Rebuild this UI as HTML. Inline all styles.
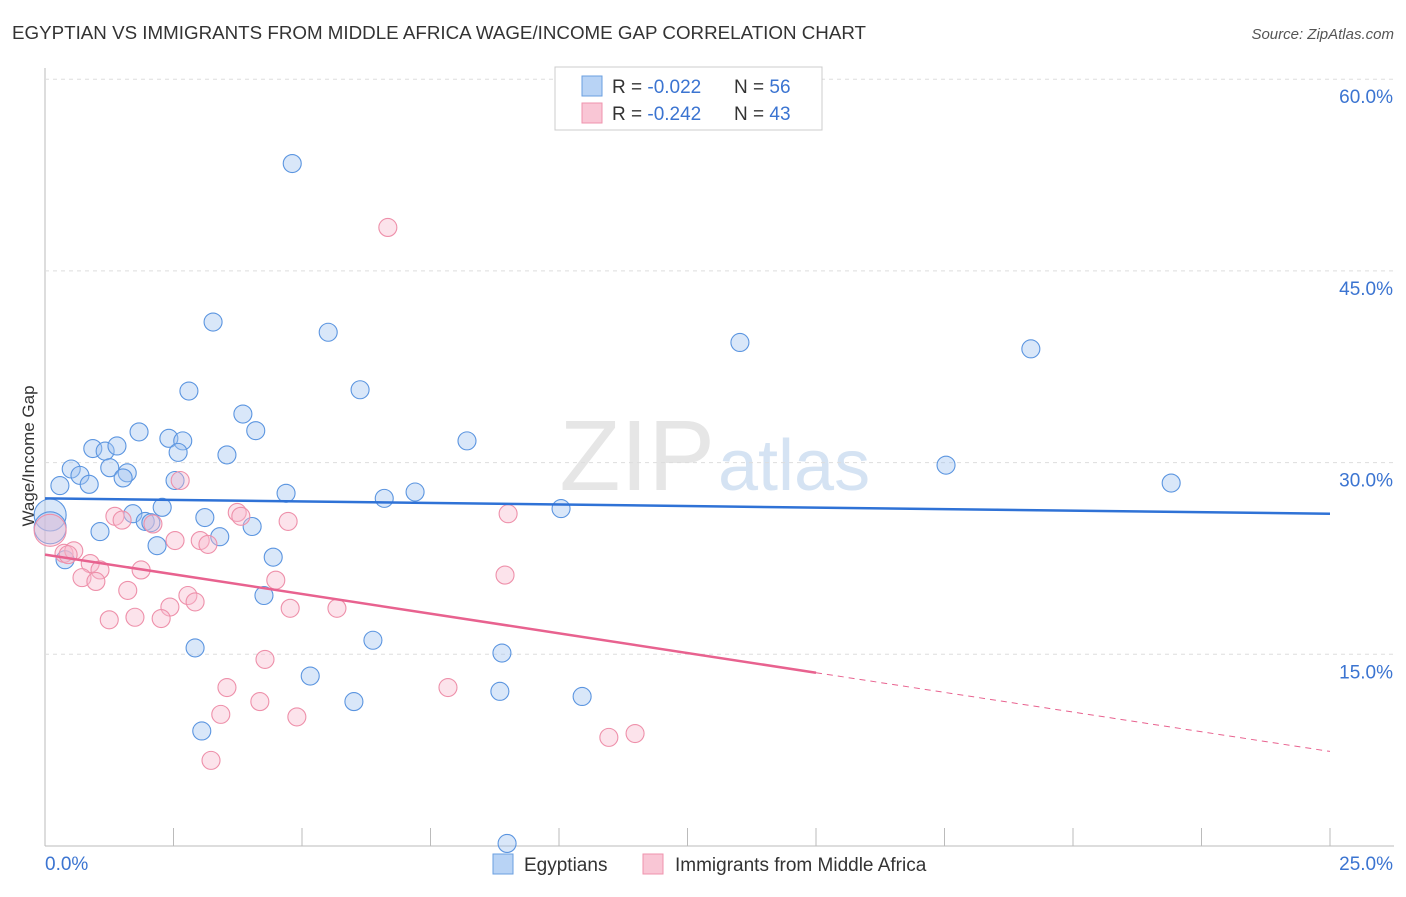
<!DOCTYPE html>
<html><head><meta charset="utf-8"><style>
body{margin:0;background:#fff;font-family:"Liberation Sans",sans-serif}
svg text{font-family:"Liberation Sans",sans-serif}
</style></head><body>
<svg id="c" width="1406" height="892">
<text x="12" y="39" font-size="18" fill="#333" textLength="854" lengthAdjust="spacingAndGlyphs">EGYPTIAN VS IMMIGRANTS FROM MIDDLE AFRICA WAGE/INCOME GAP CORRELATION CHART</text>
<text x="1394" y="39" font-size="15" fill="#555" font-style="italic" text-anchor="end">Source: ZipAtlas.com</text>
<text x="715" y="490" font-size="100" fill="#e6e6e6" text-anchor="end" font-family="Liberation Serif">ZIP</text>
<text x="718" y="490" font-size="72" fill="#d5e3f3">atlas</text>
<text transform="translate(34,456) rotate(-90)" font-size="17" fill="#333" text-anchor="middle">Wage/Income Gap</text>
<g id="grid"></g><g id="pts"></g><g id="lines"></g>
<g>
<rect x="555" y="67" width="267" height="63" fill="#fff" stroke="#ccc"/>
<rect x="582" y="76" width="20" height="20" fill="#b8d3f5" stroke="#6a9fe0"/>
<rect x="582" y="103" width="20" height="20" fill="#f9c6d5" stroke="#ef93ad"/>
<text x="612" y="93" font-size="19" fill="#333">R = <tspan fill="#3b74d1">-0.022</tspan></text>
<text x="734" y="93" font-size="19" fill="#333">N = <tspan fill="#3b74d1">56</tspan></text>
<text x="612" y="120" font-size="19" fill="#333">R = <tspan fill="#3b74d1">-0.242</tspan></text>
<text x="734" y="120" font-size="19" fill="#333">N = <tspan fill="#3b74d1">43</tspan></text>
</g>
<g>
<rect x="493" y="854" width="20" height="20" fill="#b8d3f5" stroke="#6a9fe0"/>
<text x="524" y="871" font-size="19" fill="#333">Egyptians</text>
<rect x="643" y="854" width="20" height="20" fill="#f9c6d5" stroke="#ef93ad"/>
<text x="675" y="871" font-size="19" fill="#333">Immigrants from Middle Africa</text>
</g>
</svg>
<script>
const yTicks=[15,30,45,60];
const xTickLabels=["0.0%","25.0%"];
const blueX=[4.81,3.27,5.51,13.52,19.18,2.80,6.13,3.85,1.83,4.10,2.41,2.68,8.21,0.93,1.17,1.40,2.59,3.54,0.51,0.68,1.26,1.60,1.52,0.29,0.86,2.53,17.53,21.91,4.69,6.60,7.20,10.04,2.28,1.71,3.11,1.95,2.06,4.03,1.07,3.40,2.18,0.10,0.10,0.39,4.44,4.26,6.38,2.92,8.89,5.16,8.85,10.45,6.01,3.05,8.99];
const blueY=[53.4,41.0,40.2,39.4,38.9,35.6,35.7,33.8,32.4,32.5,31.9,31.7,31.7,31.1,30.9,31.3,30.8,30.6,29.5,29.0,29.6,29.2,28.8,28.2,28.3,28.6,29.8,28.4,27.6,27.2,27.7,26.4,26.5,26.0,25.7,25.4,25.3,25.0,24.6,24.2,23.5,25.9,24.9,22.4,22.6,19.6,16.1,15.5,15.1,13.3,12.1,11.7,11.3,9.0,0.2];
const blueBig=[41,42];
const pinkX=[6.67,2.63,1.36,1.50,2.10,3.74,3.81,4.73,9.01,2.53,3.02,3.17,0.10,0.37,0.56,0.88,1.07,1.87,4.49,8.95,0.72,0.99,1.61,2.78,2.92,2.43,4.77,5.68,1.25,1.75,2.26,4.28,3.54,7.84,4.18,3.42,4.90,10.97,11.48,3.23,0.45];
const pinkY=[48.4,28.6,25.8,25.5,25.2,26.1,25.8,25.4,26.0,23.9,23.9,23.6,24.7,22.9,23.1,22.1,21.6,21.6,20.8,21.2,21.0,20.7,20.0,19.6,19.1,18.7,18.6,18.6,17.7,17.9,17.8,14.6,12.4,12.4,11.3,10.3,10.1,8.5,8.8,6.7,22.8];
const pinkBig=[12];
const blueTrend=[27.2,26.0];
const pinkTrend=[22.8,7.4];
const pinkSolidEnd=15;
const NS="http://www.w3.org/2000/svg";
const X=v=>45+v/25*1285, Y=v=>846-v*12.78;
function mk(t,a,p){const e=document.createElementNS(NS,t);for(const k in a)e.setAttribute(k,a[k]);p.appendChild(e);return e;}
const g=document.getElementById('grid');
mk('line',{x1:45,y1:68,x2:45,y2:846,stroke:'#bbb'},g);
mk('line',{x1:45,y1:846,x2:1394,y2:846,stroke:'#bbb'},g);
for(let i=1;i<=10;i++){mk('line',{x1:X(i*2.5),y1:828,x2:X(i*2.5),y2:846,stroke:'#bbb'},g);}
yTicks.forEach(t=>{
const l=mk('line',{x1:45,y1:Y(t),x2:1394,y2:Y(t),stroke:'#ddd','stroke-dasharray':'4,4'},g);


const tx=mk('text',{x:1393,y:Y(t)+24,'font-size':19,fill:'#3b74d1','text-anchor':'end'},g);tx.textContent=t.toFixed(1)+'%';


});
[[0,45,'start'],[1,1393,'end']].forEach(([i,x,a])=>{const t=mk('text',{x:x,y:870,'font-size':19,fill:'#3b74d1','text-anchor':a},g);t.textContent=xTickLabels[i];

});
const p=document.getElementById('pts');
blueX.forEach((x,i)=>{const c=mk('circle',{cx:X(x),cy:Y(blueY[i]),r:blueBig.includes(i)?16:9,fill:'rgba(160,196,240,0.4)',stroke:'#5b95e0','stroke-width':1.1},p);

});
pinkX.forEach((x,i)=>{const c=mk('circle',{cx:X(x),cy:Y(pinkY[i]),r:pinkBig.includes(i)?16:9,fill:'rgba(248,186,204,0.4)',stroke:'#ee90aa','stroke-width':1.1},p);

});
const L=document.getElementById('lines');
const bl=mk('line',{x1:X(0),y1:Y(blueTrend[0]),x2:X(25),y2:Y(blueTrend[1]),stroke:'#2f72d6','stroke-width':2.5},L);


const pm=v=>pinkTrend[0]+(pinkTrend[1]-pinkTrend[0])*v/25;
const pl=mk('line',{x1:X(0),y1:Y(pm(0)),x2:X(pinkSolidEnd),y2:Y(pm(pinkSolidEnd)),stroke:'#e8628f','stroke-width':2.5},L);


const pd=mk('line',{x1:X(pinkSolidEnd),y1:Y(pm(pinkSolidEnd)),x2:X(25),y2:Y(pm(25)),stroke:'#e8628f','stroke-width':1,'stroke-dasharray':'6,5'},L);


</script>
</body></html>
